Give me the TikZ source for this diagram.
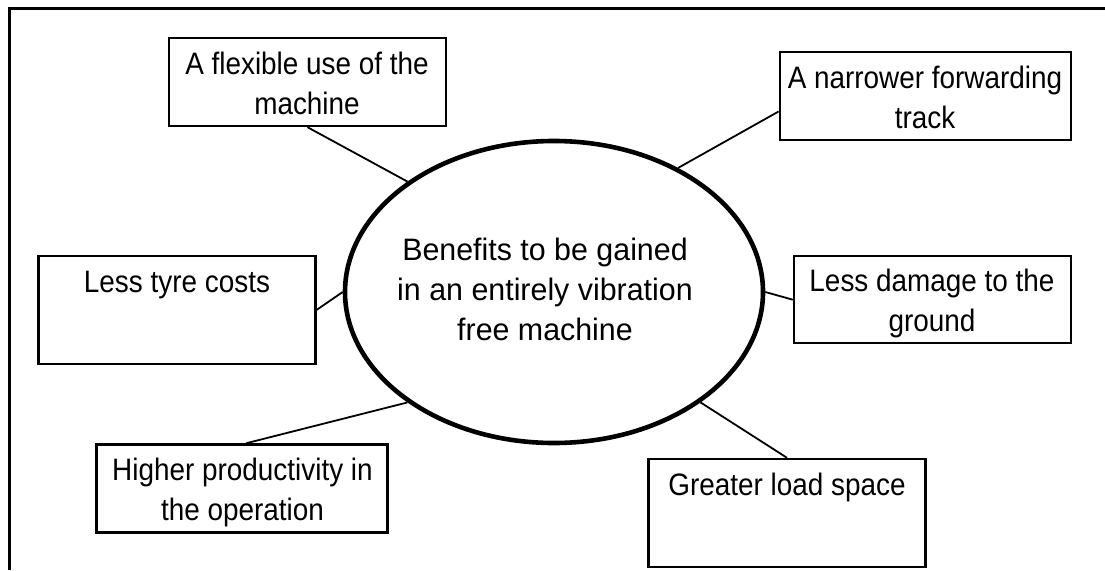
\documentclass[tikz,border=0pt]{standalone}
\usepackage{fontspec}
\setmainfont[FakeStretch=0.90]{Liberation Sans}
\newfontfamily\ellfont[FakeStretch=0.98]{Liberation Sans}
\usetikzlibrary{shapes.geometric}
\tikzset{
  box/.style={draw, line width=2.4pt, minimum width=277pt, minimum height=88pt, inner sep=0pt},
  lbl/.style={align=center, inner sep=0pt, font=\fontsize{31}{40}\selectfont, anchor=base},
  con/.style={line width=1.8pt},
  hub/.style={draw, ellipse, line width=4.6pt, minimum width=418pt, minimum height=302pt, inner sep=0pt},
}
\begin{document}
\begin{tikzpicture}[x=1pt,y=-1pt]
\useasboundingbox (0,0) rectangle (1105,570);
\draw[line width=2.4pt] (9.3,570) -- (9.3,8.3) -- (1105,8.3);

\node[hub] (ell) at (554,292) {};
\node[lbl, font=\ellfont\fontsize{31}{40}\selectfont] (et) at (545,340.7) {Benefits to be gained\\in an entirely vibration\\free machine};

\node[box] (b1) at (307.5,82) {};
\node[box, minimum width=291pt] (b2) at (925.3,96) {};
\node[box, minimum height=87pt] (b3) at (932.5,299.7) {};
\node[box, minimum height=108pt] (b4) at (787,513) {};
\node[box, minimum width=291pt] (b5) at (242,488.5) {};
\node[box, minimum height=108pt] (b6) at (176.8,310) {};

\node[lbl] (t1) at (307,114.3) {A flexible use of the\\machine};
\node[lbl] (t2) at (925,128) {A narrower forwarding\\track};
\node[lbl] (t3) at (932,331.7) {Less damage to the\\ground};
\node[lbl] (t4) at (787,495) {Greater load space};
\node[lbl] (t5) at (242.5,520.7) {Higher productivity in\\the operation};
\node[lbl] (t6) at (177,292) {Less tyre costs};

\draw[con] (b1.south) -- (ell.143);
\draw[con] ([yshift=-15.5pt]b2.west) -- (ell.45);
\draw[con] (b3.west) -- (ell.east);
\draw[con] (b4.north) -- (ell.-37);
\draw[con] ([xshift=4pt]b5.north) -- (ell.217);
\draw[con] (b6.east) -- (ell.west);
\end{tikzpicture}
\end{document}
